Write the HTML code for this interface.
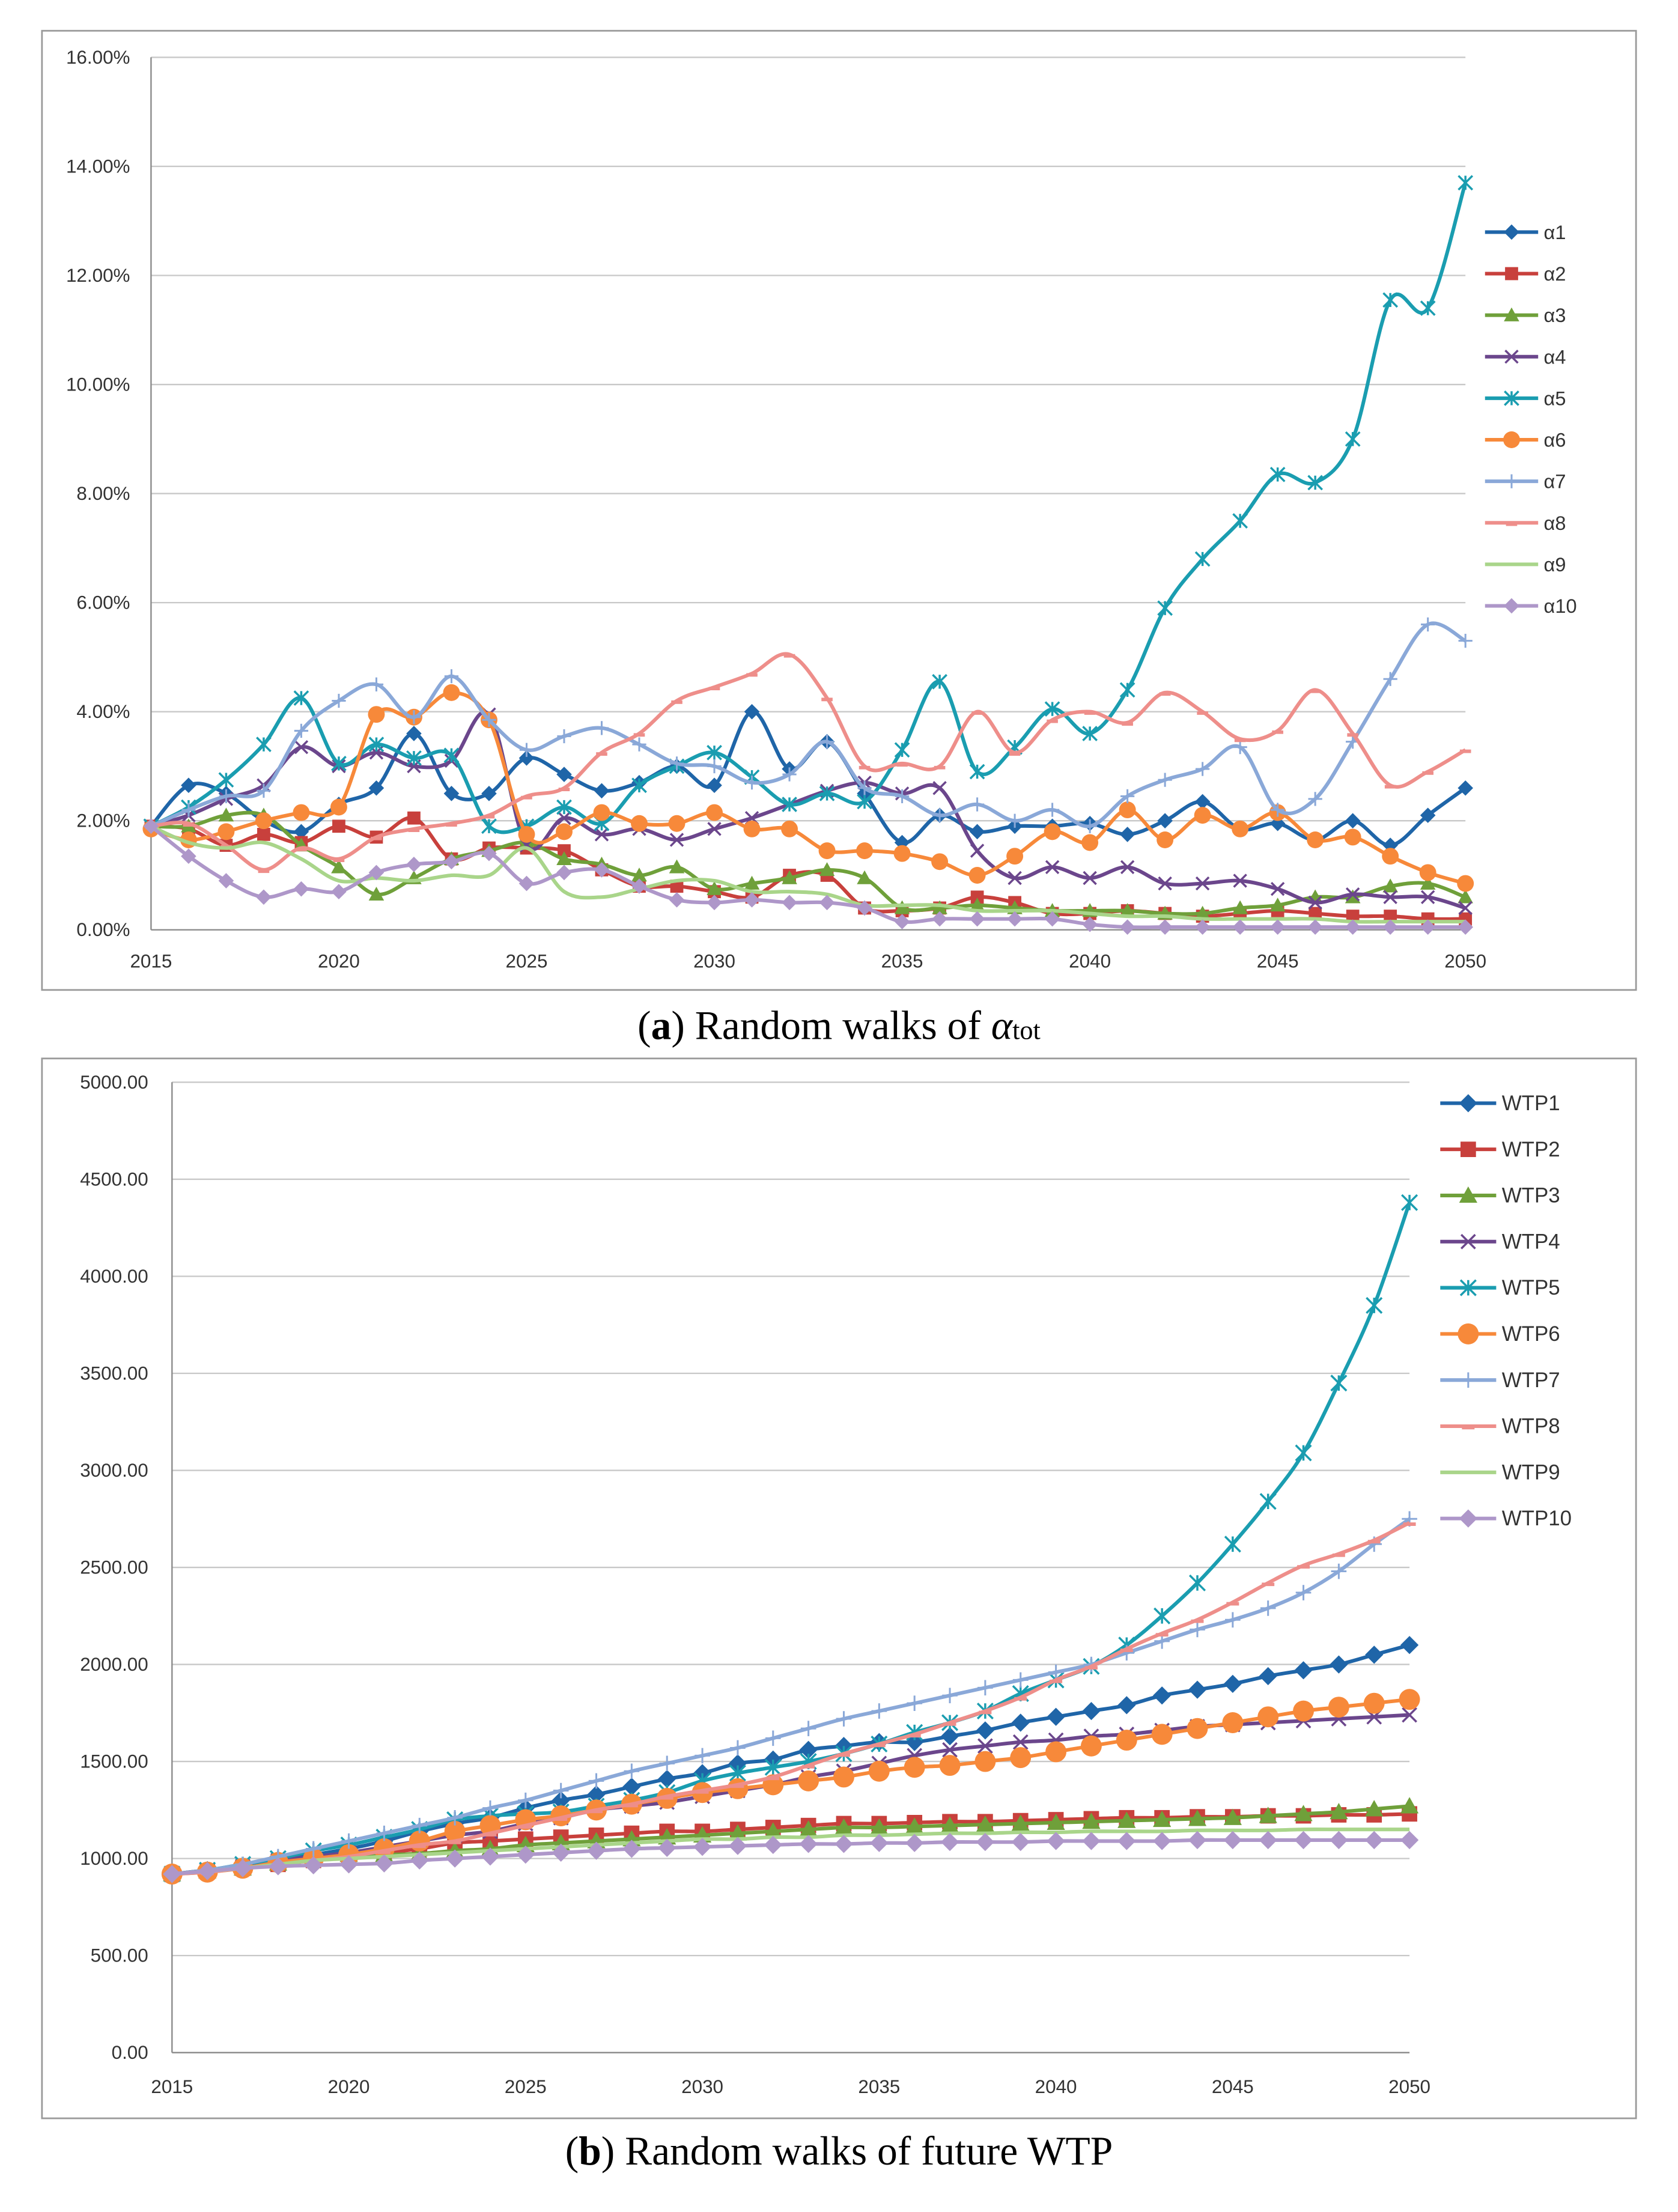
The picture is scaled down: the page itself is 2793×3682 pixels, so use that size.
<!DOCTYPE html>
<html><head><meta charset="utf-8">
<style>
html,body{margin:0;padding:0;background:#fff;}
svg{display:block;}
text{font-family:"Liberation Sans",sans-serif;}
</style></head>
<body>
<svg id="fig" width="2793" height="3682" viewBox="0 0 1200 1582" xmlns="http://www.w3.org/2000/svg">
  <rect x="30" y="22" width="1140" height="686" fill="#fff" stroke="#9a9a9a" stroke-width="1.2"/>
  <g id="chartA"></g>
  <text x="600" y="743" text-anchor="middle" font-size="29" style="font-family:'Liberation Serif',serif">(<tspan font-weight="bold">a</tspan>) Random walks of <tspan font-style="italic">α</tspan><tspan font-size="19">tot</tspan></text>
  <rect x="30" y="757" width="1140" height="758" fill="#fff" stroke="#9a9a9a" stroke-width="1.2"/>
  <g id="chartB"></g>
  <text x="600" y="1548" text-anchor="middle" font-size="29" style="font-family:'Liberation Serif',serif">(<tspan font-weight="bold">b</tspan>) Random walks of future WTP</text>
</svg>
<script>
const years = Array.from({length:36},(_,i)=>2015+i);
const a1=[1.9,2.65,2.5,2.0,1.8,2.3,2.6,3.6,2.5,2.5,3.15,2.85,2.55,2.7,3.0,2.65,4.0,2.95,3.45,2.5,1.6,2.1,1.8,1.9,1.9,1.95,1.75,2.0,2.35,1.85,1.95,1.65,2.0,1.55,2.1,2.6];
const a2=[1.9,1.85,1.55,1.75,1.6,1.9,1.7,2.05,1.3,1.5,1.5,1.45,1.1,0.8,0.8,0.7,0.6,1.0,1.0,0.4,0.35,0.4,0.6,0.5,0.3,0.3,0.35,0.3,0.25,0.3,0.35,0.3,0.25,0.25,0.2,0.2];
const a3=[1.9,1.9,2.1,2.1,1.55,1.15,0.65,0.95,1.3,1.45,1.6,1.3,1.2,1.0,1.15,0.75,0.85,0.95,1.1,0.95,0.4,0.4,0.45,0.4,0.35,0.35,0.35,0.3,0.3,0.4,0.45,0.6,0.6,0.8,0.85,0.6];
const a4=[1.9,2.1,2.4,2.65,3.35,3.0,3.25,3.0,3.1,3.95,1.55,2.05,1.75,1.85,1.65,1.85,2.05,2.3,2.55,2.7,2.5,2.6,1.45,0.95,1.15,0.95,1.15,0.85,0.85,0.9,0.75,0.5,0.65,0.6,0.6,0.4];
const a5=[1.9,2.25,2.75,3.4,4.25,3.05,3.4,3.15,3.2,1.9,1.9,2.25,1.95,2.65,3.0,3.25,2.8,2.3,2.5,2.35,3.3,4.55,2.9,3.35,4.05,3.6,4.4,5.9,6.8,7.5,8.35,8.2,9.0,11.55,11.4,13.7];
const a6=[1.85,1.65,1.8,2.0,2.15,2.25,3.95,3.9,4.35,3.85,1.75,1.8,2.15,1.95,1.95,2.15,1.85,1.85,1.45,1.45,1.4,1.25,1.0,1.35,1.8,1.6,2.2,1.65,2.1,1.85,2.15,1.65,1.7,1.35,1.05,0.85];
const a7=[1.9,2.2,2.45,2.55,3.65,4.2,4.5,3.9,4.65,3.85,3.3,3.55,3.7,3.4,3.05,3.0,2.7,2.85,3.45,2.6,2.45,2.1,2.3,2.0,2.2,1.9,2.45,2.75,2.95,3.35,2.2,2.4,3.45,4.6,5.6,5.3];
const a8=[1.9,1.95,1.55,1.1,1.5,1.3,1.7,1.85,1.95,2.1,2.45,2.6,3.25,3.6,4.2,4.45,4.7,5.05,4.25,3.0,3.05,3.0,4.0,3.25,3.85,4.0,3.8,4.35,4.0,3.5,3.65,4.4,3.6,2.65,2.9,3.3];
const a9=[1.9,1.6,1.5,1.6,1.3,0.9,0.95,0.9,1.0,1.0,1.5,0.7,0.6,0.75,0.9,0.9,0.7,0.7,0.65,0.45,0.45,0.45,0.35,0.35,0.35,0.3,0.25,0.25,0.2,0.2,0.2,0.2,0.15,0.15,0.15,0.15];
const a10=[1.9,1.35,0.9,0.6,0.75,0.7,1.05,1.2,1.25,1.4,0.85,1.05,1.1,0.8,0.55,0.5,0.55,0.5,0.5,0.4,0.15,0.2,0.2,0.2,0.2,0.1,0.05,0.05,0.05,0.05,0.05,0.05,0.05,0.05,0.05,0.05];
const w1=[920,940,960,990,1020,1050,1090,1140,1180,1210,1260,1300,1330,1370,1410,1440,1490,1510,1560,1580,1600,1600,1630,1660,1700,1730,1760,1790,1840,1870,1900,1940,1970,2000,2050,2100];
const w2=[920,935,950,970,990,1010,1030,1050,1080,1090,1100,1110,1120,1130,1140,1140,1150,1160,1170,1180,1180,1185,1190,1190,1195,1200,1205,1210,1210,1215,1215,1220,1220,1225,1225,1230];
const w3=[920,935,950,975,1000,1020,1020,1025,1040,1050,1070,1080,1090,1100,1110,1120,1130,1140,1150,1160,1160,1165,1170,1175,1180,1185,1190,1195,1200,1205,1210,1220,1230,1240,1255,1270];
const w4=[920,940,960,990,1010,1030,1060,1090,1120,1140,1180,1210,1250,1270,1290,1320,1350,1380,1420,1450,1490,1530,1560,1580,1600,1610,1630,1640,1660,1680,1690,1700,1710,1720,1730,1740];
const w5=[920,940,970,1000,1040,1070,1110,1150,1200,1220,1230,1240,1270,1300,1340,1400,1440,1470,1500,1540,1590,1650,1700,1760,1850,1920,1990,2100,2250,2420,2620,2840,3090,3450,3850,4380];
const w6=[920,930,950,980,1000,1020,1050,1090,1140,1170,1200,1220,1250,1280,1310,1340,1360,1380,1400,1420,1450,1470,1480,1500,1520,1550,1580,1610,1640,1670,1700,1730,1760,1780,1800,1820];
const w7=[920,940,970,1010,1050,1090,1130,1170,1210,1260,1300,1350,1400,1450,1490,1530,1570,1620,1670,1720,1760,1800,1840,1880,1920,1960,2000,2060,2120,2180,2230,2290,2370,2480,2620,2750];
const w8=[920,930,950,970,990,1010,1040,1070,1090,1130,1170,1210,1250,1280,1320,1350,1380,1420,1480,1540,1590,1640,1700,1760,1830,1920,1990,2080,2160,2230,2320,2420,2510,2570,2640,2730];
const w9=[920,935,950,970,990,1000,1010,1020,1030,1040,1050,1060,1070,1080,1090,1100,1100,1110,1110,1120,1120,1125,1130,1130,1135,1135,1140,1140,1140,1145,1145,1145,1150,1150,1150,1150];
const w10=[920,935,950,960,965,970,975,990,1000,1010,1020,1030,1040,1050,1055,1060,1065,1070,1075,1075,1080,1080,1085,1085,1085,1090,1090,1090,1090,1095,1095,1095,1095,1095,1095,1095];
const yTicksA=[0,2,4,6,8,10,12,14,16];
const yTicksB=[0,500,1000,1500,2000,2500,3000,3500,4000,4500,5000];
const xTicks=[2015,2020,2025,2030,2035,2040,2045,2050];

const colors=['#1f65a8','#c8403c','#6fa03a','#6b468c','#1a9db0','#f7893a','#8aa8d8','#ee8e8a','#a9d58a','#ae97c9'];
const markers=['diamond','square','triangle','x','star','circle','plus','dash','none','diamond'];
const NS='http://www.w3.org/2000/svg';
function el(tag,attrs,parent){const e=document.createElementNS(NS,tag);for(const k in attrs)e.setAttribute(k,attrs[k]);parent.appendChild(e);return e;}
function smooth(pts){let d='M'+pts[0][0]+','+pts[0][1];for(let i=0;i<pts.length-1;i++){const p0=pts[i-1]||pts[i],p1=pts[i],p2=pts[i+1],p3=pts[i+2]||p2;const t=0.5/3;d+=' C'+(p1[0]+(p2[0]-p0[0])*t)+','+(p1[1]+(p2[1]-p0[1])*t)+' '+(p2[0]-(p3[0]-p1[0])*t)+','+(p2[1]-(p3[1]-p1[1])*t)+' '+p2[0]+','+p2[1];}return d;}
function marker(g,type,x,y,c,s){
  if(type==='diamond')return el('path',{d:`M${x},${y-s} L${x+s},${y} L${x},${y+s} L${x-s},${y}Z`,fill:c},g);
  if(type==='square')return el('rect',{x:x-s*0.85,y:y-s*0.85,width:s*1.7,height:s*1.7,fill:c},g);
  if(type==='triangle')return el('path',{d:`M${x},${y-s} L${x+s},${y+s*0.8} L${x-s},${y+s*0.8}Z`,fill:c},g);
  if(type==='circle')return el('circle',{cx:x,cy:y,r:s,fill:c},g);
  if(type==='x')return el('path',{d:`M${x-s},${y-s} L${x+s},${y+s} M${x-s},${y+s} L${x+s},${y-s}`,stroke:c,'stroke-width':1.5},g);
  if(type==='star')return el('path',{d:`M${x-s},${y-s} L${x+s},${y+s} M${x-s},${y+s} L${x+s},${y-s} M${x},${y-s} L${x},${y+s}`,stroke:c,'stroke-width':1.5},g);
  if(type==='plus')return el('path',{d:`M${x-s},${y} L${x+s},${y} M${x},${y-s} L${x},${y+s}`,stroke:c,'stroke-width':1.3},g);
  if(type==='dash')return el('path',{d:`M${x-s},${y+1} L${x+s},${y+1}`,stroke:c,'stroke-width':2.5},g);
}
function chart(root,cfg){
  const sx=v=>cfg.x0+(v-2015)*(cfg.x1-cfg.x0)/35;
  const sy=v=>cfg.y0-(v-cfg.ymin)*(cfg.y0-cfg.y1)/(cfg.ymax-cfg.ymin);
  cfg.yTicks.forEach(t=>{
    const l=el('line',{x1:cfg.x0,x2:cfg.x1,y1:sy(t),y2:sy(t),stroke:t===0?'#888':'#c8c8c8','stroke-width':1},root);
    
    
    const tx=el('text',{x:cfg.x0-cfg.ylOff,y:sy(t)+4.5,'text-anchor':'end','font-size':13.5,fill:'#333'},root);
    tx.textContent=cfg.fmt(t);
    
    
  });
  el('line',{x1:cfg.x0,x2:cfg.x0,y1:cfg.y1,y2:cfg.y0,stroke:'#888'},root);
  xTicks.forEach(t=>{
    const tx=el('text',{x:sx(t),y:cfg.y0+cfg.xlOff,'text-anchor':'middle','font-size':13.5,fill:'#333'},root);
    tx.textContent=t;
    
    
  });
  cfg.series.forEach((s,i)=>{
    const g=el('g',{},root);
    
    
    const pts=s.map((v,j)=>[sx(years[j]),sy(v)]);
    el('path',{d:smooth(pts),fill:'none',stroke:colors[i],'stroke-width':2.6,'stroke-linejoin':'round'},g);
    if(markers[i]!=='none')pts.forEach(p=>marker(g,markers[i],p[0],p[1],colors[i],cfg.ms[i]));
    const lg=el('g',{},root);
    
    
    const ly=cfg.ly0+i*cfg.ldy;
    el('line',{x1:cfg.lx,x2:cfg.lx+cfg.lw,y1:ly,y2:ly,stroke:colors[i],'stroke-width':2.6},lg);
    if(markers[i]!=='none')marker(lg,markers[i],cfg.lx+cfg.lw/2,ly,colors[i],cfg.ms[i]);
    const lt=el('text',{x:cfg.lx+cfg.lw+4,y:ly+5,'font-size':cfg.lfs,fill:'#333'},lg);
    lt.textContent=cfg.names[i];
  });
}
chart(document.getElementById('chartA'),{x0:108,x1:1048,y0:665,y1:41,ymin:0,ymax:16,yTicks:yTicksA,fmt:t=>t.toFixed(2)+'%',ylOff:15,xlOff:27,
  series:[a1,a2,a3,a4,a5,a6,a7,a8,a9,a10],names:['α1','α2','α3','α4','α5','α6','α7','α8','α9','α10'],
  ms:[5.5,5.5,5.5,4.5,5,6,5,4,4,5.5],lx:1062,lw:38,ly0:166,ldy:29.7,lfs:14});
chart(document.getElementById('chartB'),{x0:123,x1:1008,y0:1468,y1:774,ymin:0,ymax:5000,yTicks:yTicksB,fmt:t=>t.toFixed(2),ylOff:17,xlOff:29,
  series:[w1,w2,w3,w4,w5,w6,w7,w8,w9,w10],names:['WTP1','WTP2','WTP3','WTP4','WTP5','WTP6','WTP7','WTP8','WTP9','WTP10'],
  ms:[6.5,6.5,6.5,5,5.5,7.5,5.5,4.5,4.5,6.5],lx:1030,lw:40,ly0:789,ldy:33,lfs:15});
</script>
</body></html>
